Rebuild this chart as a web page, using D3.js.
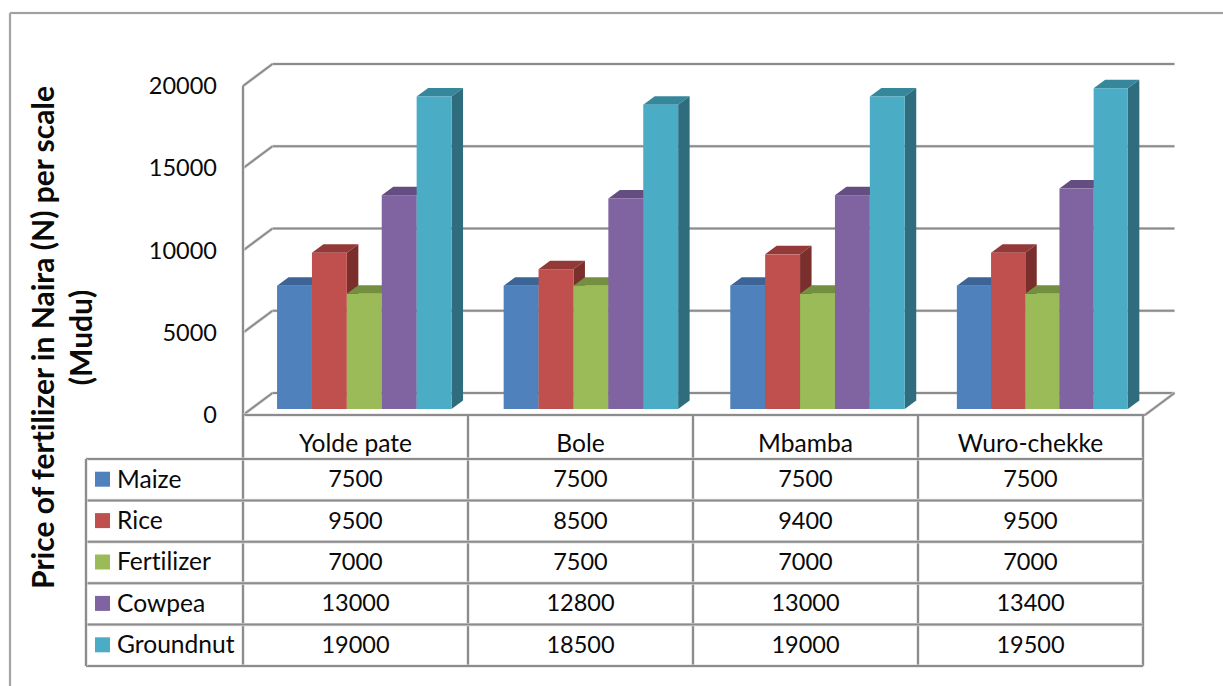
<!DOCTYPE html>
<html>
<head>
<meta charset="utf-8">
<script src="https://cdnjs.cloudflare.com/ajax/libs/d3/7.8.5/d3.min.js"></script>
<style>
  html, body { margin: 0; padding: 0; background: #fff; }
  svg { display: block; }
  text { font-family: Lato, "Open Sans", sans-serif; fill: #0a0a0a; font-variant-ligatures: none; }
</style>
</head>
<body>
<svg id="chart" width="1223" height="686"></svg>
<script>
// Village price table
const villages = ["Yolde pate", "Bole", "Mbamba", "Wuro-chekke"];
const seriesNames = ["Maize", "Rice", "Fertilizer", "Cowpea", "Groundnut"];
const maize = [7500, 7500, 7500, 7500];
const rice = [9500, 8500, 9400, 9500];
const fertilizer = [7000, 7500, 7000, 7000];
const cowpea = [13000, 12800, 13000, 13400];
const groundnut = [19000, 18500, 19000, 19500];
const valueTicks = [0, 5000, 10000, 15000, 20000];
const frontColors = ["#4F81BD", "#C0504D", "#9BBB59", "#8064A2", "#4BACC6"];
const topColors = ["#3C6496", "#933A38", "#748F40", "#644D80", "#37879C"];
const sideColors = ["#335580", "#7B2F2D", "#5F7634", "#523F6A", "#2F6D7E"];

const seriesValues = [maize, rice, fertilizer, cowpea, groundnut];
const svg = d3.select("#chart");
const lineGrey = "#8c8c8c";

// Box projection: the back wall sits up and to the right of the front plane
const wallDx = 29.5, wallDy = -22;
const barDx = 11.5, barDy = -8.5, barLift = 6;
const plotLeft = 243, plotRight = 1145;

const y = d3.scaleLinear().domain([0, 20000]).range([415, 86]);
const xGroup = d3.scaleBand().domain(villages).range([251, 1157.4])
  .paddingInner(0.23).paddingOuter(0.115);
// The last cluster is drawn slightly tighter than the others
const clusterTrim = [0, 0, 0, 3.5];
const xSeriesFor = vi => d3.scaleBand().domain(seriesNames)
  .range([0, xGroup.bandwidth() - clusterTrim[vi]]);

// Soft-edged rule used for the frame, grid and table
function rule(x1, y1, x2, y2, w = 2) {
  svg.append("line").attr("x1", x1).attr("y1", y1).attr("x2", x2).attr("y2", y2)
    .attr("stroke", "#dcdcdc").attr("stroke-width", w + 1.2);
  svg.append("line").attr("x1", x1).attr("y1", y1).attr("x2", x2).attr("y2", y2)
    .attr("stroke", lineGrey).attr("stroke-width", w);
}

// Outer chart frame
rule(10, 13, 1223, 13, 1.4);
rule(10, 13, 10, 686, 1.4);

// Back-wall gridlines with their returns to the front plane
valueTicks.forEach(t => {
  const yy = y(t);
  rule(plotLeft, yy, plotLeft + wallDx, yy + wallDy);
  rule(plotLeft + wallDx, yy + wallDy, plotRight + wallDx, yy + wallDy);
});
rule(plotLeft, y(20000), plotLeft, 459);
rule(plotLeft, y(0), plotRight, y(0));
rule(plotRight, y(0), plotRight + wallDx, y(0) + wallDy);

// Value axis labels
const axis = d3.axisLeft(y).tickValues(valueTicks).tickSize(0).tickPadding(0)
  .tickFormat(d3.format("d"));
const axisG = svg.append("g").attr("transform", "translate(217,0)").call(axis);
axisG.select(".domain").remove();
axisG.selectAll("text").style("font-size", "23.5px")
  .style("font-family", "Lato, sans-serif").attr("dy", "0.32em");

// 3D bars, painted left to right so later faces overlap earlier sides
villages.forEach((v, vi) => {
  const xSeries = xSeriesFor(vi);
  seriesNames.forEach((s, si) => {
    const val = seriesValues[si][vi];
    const x0 = xGroup(v) + xSeries(s);
    const w = xSeries.bandwidth();
    const yTop = y(val) - barLift;
    const yBase = y(0) - barLift;
    const g = svg.append("g");
    g.append("polygon").attr("fill", topColors[si]).attr("points", [
      [x0, yTop], [x0 + barDx, yTop + barDy], [x0 + w + barDx, yTop + barDy], [x0 + w, yTop]
    ].join(" "));
    g.append("polygon").attr("fill", sideColors[si]).attr("points", [
      [x0 + w, yTop], [x0 + w + barDx, yTop + barDy], [x0 + w + barDx, yBase + barDy], [x0 + w, yBase]
    ].join(" "));
    g.append("rect").attr("x", x0).attr("y", yTop).attr("width", w)
      .attr("height", yBase - yTop).attr("fill", frontColors[si]);
  });
});

// Data table beneath the plot
const tableTop = 459, tableBottom = 666, legendLeft = 86, tableRight = 1143;
const col = d3.scaleBand().domain(villages).range([plotLeft, tableRight]);
const row = d3.scaleBand().domain(seriesNames).range([tableTop, tableBottom]);

rule(plotLeft, 415, plotLeft, tableBottom);
villages.forEach(v => rule(col(v) + col.bandwidth(), 416, col(v) + col.bandwidth(), tableBottom));
seriesNames.forEach(s => rule(legendLeft, row(s), tableRight, row(s)));
rule(legendLeft, tableBottom, tableRight, tableBottom);
rule(legendLeft, tableTop, legendLeft, tableBottom);

const numberSize = "23.5px", labelSize = "24.6px";
villages.forEach(v => {
  svg.append("text").attr("x", col(v) + col.bandwidth() / 2).attr("y", 444)
    .attr("dy", "0.32em").attr("text-anchor", "middle").style("font-size", labelSize).text(v);
});
seriesNames.forEach((s, si) => {
  const cy = row(s) + row.bandwidth() / 2;
  svg.append("rect").attr("x", 95).attr("y", cy - 8).attr("width", 15).attr("height", 15)
    .attr("fill", frontColors[si]);
  svg.append("text").attr("x", 117).attr("y", cy).attr("dy", "0.32em")
    .style("font-size", labelSize).text(s);
  villages.forEach((v, vi) => {
    svg.append("text").attr("x", col(v) + col.bandwidth() / 2).attr("y", cy)
      .attr("dy", "0.32em").attr("text-anchor", "middle").style("font-size", numberSize)
      .text(seriesValues[si][vi]);
  });
});

// Rotated axis title on two lines
const title = svg.append("text").attr("transform", "translate(0,337.5) rotate(-90)")
  .attr("text-anchor", "middle").style("font-size", "30px").style("font-weight", 700);
title.append("tspan").attr("x", 0).attr("y", 54).text("Price of fertilizer in Naira (N) per scale");
title.append("tspan").attr("x", 0).attr("y", 92).text("(Mudu)");
</script>
</body>
</html>
